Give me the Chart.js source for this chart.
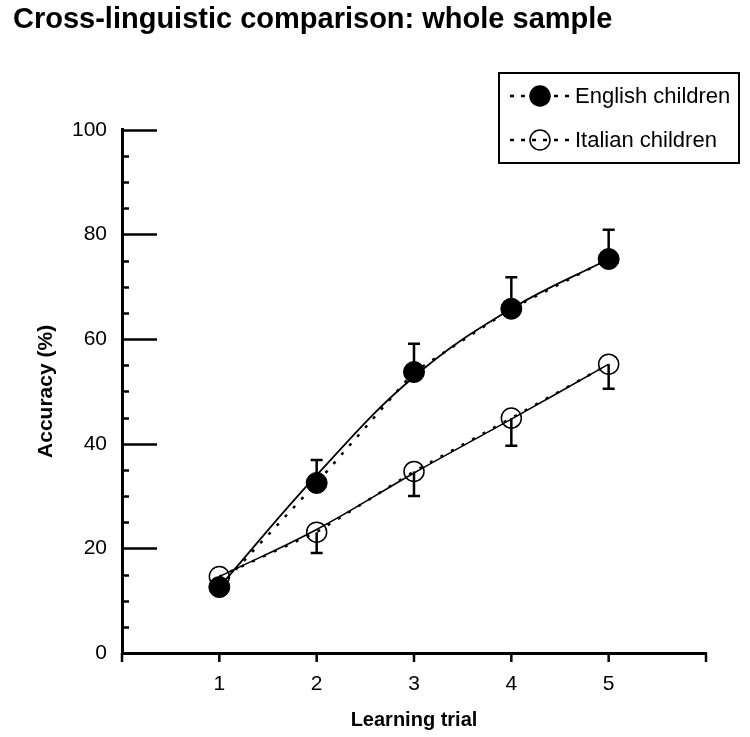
<!DOCTYPE html>
<html><head><meta charset="utf-8">
<script src="https://cdn.jsdelivr.net/npm/chart.js@4/dist/chart.umd.min.js"></script>
<style>html,body{margin:0;padding:0;background:#fff}#wrap{width:750px;height:737px}</style>
</head><body><div id="wrap"><canvas id="c" width="750" height="737"></canvas></div>
<script>
const trials = [1, 2, 3, 4, 5];
const englishAcc = [12.6, 32.5, 53.7, 65.8, 75.3];
const italianAcc = [14.6, 23.1, 34.7, 44.9, 55.2];
const englishFit = [12.6, 34.0, 52.8, 65.8, 75.3];
const italianFit = [14.6, 23.6, 34.4, 44.7, 55.2];
const englishErrUpper = [null, 36.9, 59.1, 71.8, 80.9];
const italianErrLower = [null, 19.1, 30.0, 39.6, 50.5];
const xTickLabels = ['1', '2', '3', '4', '5'];
const seriesLabels = ['English children', 'Italian children'];
const titleText = 'Cross-linguistic comparison: whole sample';
const xTitle = 'Learning trial';
const yTitle = 'Accuracy (%)';

const FONT = '"Liberation Sans", Arial, Helvetica, sans-serif';
const pts = arr => trials.map((t, i) => ({x: t, y: arr[i]}));

const decor = {
  id: 'decor',
  afterDatasetsDraw(chart) {
    const {ctx, scales: {x, y}} = chart;
    ctx.save();
    ctx.strokeStyle = '#000';
    ctx.lineWidth = 2.5;
    const cap = 6;
    trials.forEach((t, i) => {
      const px = x.getPixelForValue(t);
      [[englishAcc[i], englishErrUpper[i]], [italianAcc[i], italianErrLower[i]]].forEach(([v, e]) => {
        if (e == null) return;
        const y0 = y.getPixelForValue(v), y1 = y.getPixelForValue(e);
        ctx.beginPath();
        ctx.moveTo(px, y0); ctx.lineTo(px, y1);
        ctx.moveTo(px - cap, y1); ctx.lineTo(px + cap, y1);
        ctx.stroke();
      });
    });
    ctx.restore();
  },
  afterDraw(chart) {
    const {ctx, scales: {x, y}, chartArea} = chart;
    ctx.save();
    ctx.strokeStyle = '#000';
    ctx.lineWidth = 2.5;
    for (let v = y.min; v <= y.max; v += 5) {
      const py = Math.round(y.getPixelForValue(v)) + 0.5;
      const len = (v % 20 === 0) ? 35 : 7;
      ctx.beginPath();
      ctx.moveTo(chartArea.left, py); ctx.lineTo(chartArea.left + len, py);
      ctx.stroke();
    }
    for (let v = x.min; v <= x.max; v += 1) {
      const px = x.getPixelForValue(v);
      ctx.beginPath();
      ctx.moveTo(px, chartArea.bottom); ctx.lineTo(px, chartArea.bottom + 9);
      ctx.stroke();
    }
    // legend
    const bx = 499, by = 73, bw = 240, bh = 90;
    ctx.lineWidth = 2;
    ctx.strokeRect(bx, by, bw, bh);
    const rows = [96, 140];
    const dsIdx = [0, 2];
    dsIdx.forEach((di, r) => {
      const ds = chart.data.datasets[di];
      const ry = rows[r];
      ctx.save();
      ctx.lineWidth = 2.5;
      ctx.setLineDash([4, 7]);
      ctx.beginPath();
      ctx.moveTo(510, ry); ctx.lineTo(570, ry);
      ctx.stroke();
      ctx.restore();
      ctx.beginPath();
      ctx.arc(540, ry, 10, 0, Math.PI * 2);
      if (ds.pointBackgroundColor !== 'rgba(0,0,0,0)') { ctx.fillStyle = '#000'; ctx.fill(); }
      ctx.lineWidth = 1.5;
      ctx.stroke();
      ctx.fillStyle = '#000';
      ctx.font = '22px ' + FONT;
      ctx.textBaseline = 'middle';
      ctx.textAlign = 'left';
      ctx.fillText(ds.label, 575, ry + 1);
    });
    ctx.restore();
  }
};

new Chart(document.getElementById('c'), {
  type: 'line',
  data: {
    datasets: [
      {label: seriesLabels[0], data: pts(englishAcc), borderColor: '#000', borderWidth: 2.5, borderDash: [3, 9],
       pointRadius: 10.5, pointBackgroundColor: '#000', pointBorderColor: '#000', pointBorderWidth: 1, tension: 0},
      {label: 'English fit', data: pts(englishFit), borderColor: '#000', borderWidth: 1.8, pointRadius: 0, tension: 0.4},
      {label: seriesLabels[1], data: pts(italianAcc), borderColor: '#000', borderWidth: 2.5, borderDash: [3, 9],
       pointRadius: 10, pointBackgroundColor: 'rgba(0,0,0,0)', pointBorderColor: '#000', pointBorderWidth: 1.5, tension: 0},
      {label: 'Italian fit', data: pts(italianFit), borderColor: '#000', borderWidth: 1.5, pointRadius: 0, tension: 0.4}
    ]
  },
  options: {
    responsive: false,
    animation: false,
    devicePixelRatio: 1,
    layout: {padding: {left: 13, right: 44, top: 0, bottom: 0}},
    plugins: {
      legend: {display: false},
      tooltip: {enabled: false},
      title: {display: true, text: titleText, align: 'start', color: '#000',
              font: {family: FONT, size: 29, weight: 'bold'}, padding: {top: 3, bottom: 92}}
    },
    scales: {
      x: {
        type: 'linear', min: 0, max: 6,
        grid: {display: false},
        border: {display: true, color: '#000', width: 3},
        ticks: {stepSize: 1, autoSkip: false, color: '#000', padding: 11,
                font: {family: FONT, size: 21},
                callback: v => (v >= 1 && v <= 5) ? xTickLabels[v - 1] : ''},
        title: {display: true, text: xTitle, color: '#000', font: {family: FONT, size: 20, weight: 'bold'},
                padding: {top: 0, bottom: 5}},
        afterFit: s => { s.height = 84; }
      },
      y: {
        min: 0, max: 100,
        grid: {display: false},
        border: {display: true, color: '#000', width: 3},
        ticks: {stepSize: 20, color: '#000', padding: 7, font: {family: FONT, size: 21}},
        title: {display: true, text: yTitle, color: '#000', font: {family: FONT, size: 21, weight: 'bold'},
                padding: {top: 21, bottom: 0}},
        afterFit: s => { s.width = 109; }
      }
    }
  },
  plugins: [decor]
});
</script></body></html>
